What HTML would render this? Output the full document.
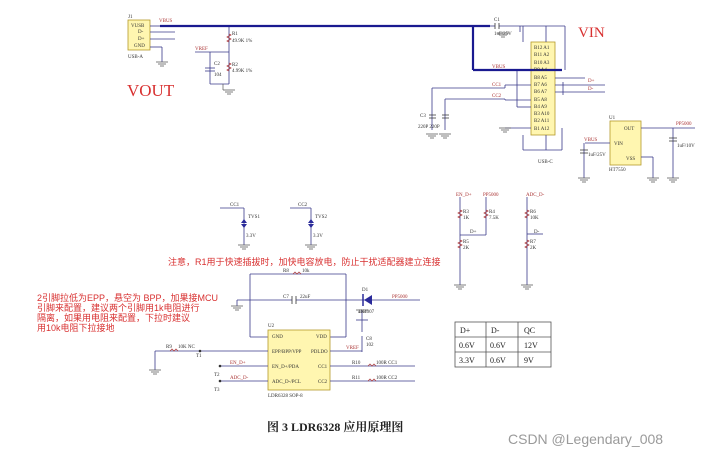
<!DOCTYPE html>
<html><head><meta charset="utf-8"><style>
html,body{margin:0;padding:0;background:#fff;}
svg{display:block;font-family:"Liberation Serif","Noto Serif CJK SC",serif;}
.s{font-size:5px;fill:#333}
.r{font-size:5px;fill:#a33}
</style></head><body>
<svg width="720" height="458" viewBox="0 0 720 458" xmlns="http://www.w3.org/2000/svg">
<g stroke="#3a3a8a" stroke-width="0.8" fill="none">
<!-- J1 -->
<rect x="128" y="20" width="22" height="30" fill="#fff6b0" stroke="#b59a2a"/>
<line x1="150" y1="26" x2="160" y2="26"/><line x1="150" y1="32" x2="175" y2="32"/><line x1="150" y1="39" x2="175" y2="39"/><line x1="150" y1="47" x2="162" y2="47"/><line x1="162" y1="47" x2="162" y2="62"/>
<!-- R1 R2 C2 -->
<line x1="229" y1="26" x2="229" y2="84"/><line x1="195" y1="52" x2="229" y2="52"/><line x1="210" y1="52" x2="210" y2="84"/><line x1="210" y1="84" x2="229" y2="84"/>
<line x1="205" y1="68" x2="215" y2="68"/><line x1="205" y1="71" x2="215" y2="71"/>
<!-- USB-C -->
<rect x="531" y="42" width="24" height="93" fill="#fff6b0" stroke="#b59a2a"/>
<line x1="490" y1="26" x2="495" y2="26"/><line x1="499" y1="26" x2="565" y2="26"/>
<line x1="520" y1="26" x2="520" y2="32"/><line x1="523" y1="26" x2="523" y2="42"/><line x1="546" y1="26" x2="546" y2="42"/><line x1="565" y1="26" x2="565" y2="70"/>
<line x1="432" y1="88" x2="505" y2="88"/><line x1="505" y1="88" x2="505" y2="85"/><line x1="505" y1="85" x2="531" y2="85"/><line x1="432" y1="88" x2="432" y2="130"/>
<line x1="445" y1="99" x2="505" y2="99"/><line x1="505" y1="99" x2="505" y2="100"/><line x1="505" y1="100" x2="531" y2="100"/><line x1="445" y1="99" x2="445" y2="130"/>
<line x1="517" y1="70" x2="517" y2="107"/><line x1="517" y1="107" x2="531" y2="107"/>
<line x1="555" y1="78" x2="585" y2="78"/><line x1="555" y1="85" x2="605" y2="85"/><line x1="555" y1="92" x2="605" y2="92"/><line x1="563" y1="82" x2="563" y2="95"/>
<line x1="505" y1="128" x2="531" y2="128"/><line x1="523" y1="135" x2="523" y2="150"/><line x1="546" y1="135" x2="546" y2="150"/><line x1="523" y1="150" x2="562" y2="150"/><line x1="562" y1="128" x2="562" y2="150"/>
<!-- U1 -->
<rect x="610" y="121" width="31" height="44" fill="#fff6b0" stroke="#b59a2a"/>
<line x1="585" y1="143" x2="610" y2="143"/><line x1="584" y1="143" x2="584" y2="178"/><line x1="641" y1="128" x2="695" y2="128"/><line x1="641" y1="157" x2="653" y2="157"/><line x1="653" y1="157" x2="653" y2="178"/><line x1="673" y1="128" x2="673" y2="178"/>
<!-- TVS -->
<line x1="220" y1="208" x2="244" y2="208"/><line x1="244" y1="208" x2="244" y2="245"/>
<line x1="290" y1="208" x2="311" y2="208"/><line x1="311" y1="208" x2="311" y2="245"/>
<!-- U2 area -->
<line x1="250" y1="274" x2="346" y2="274"/><line x1="250" y1="274" x2="250" y2="337"/><line x1="346" y1="274" x2="346" y2="337"/>
<line x1="237" y1="300" x2="292" y2="300"/><line x1="296" y1="300" x2="420" y2="300"/><line x1="237" y1="300" x2="237" y2="306"/>
<line x1="250" y1="337" x2="268" y2="337"/><line x1="330" y1="337" x2="346" y2="337"/>
<line x1="362" y1="310" x2="362" y2="332"/><line x1="362" y1="336" x2="362" y2="352"/><line x1="356" y1="320" x2="368" y2="320"/>
<rect x="268" y="330" width="62" height="60" fill="#fff6b0" stroke="#b59a2a"/>
<line x1="155" y1="351" x2="268" y2="351"/><line x1="155" y1="351" x2="155" y2="370"/><line x1="330" y1="351" x2="362" y2="351"/>
<line x1="220" y1="366" x2="268" y2="366"/><line x1="330" y1="366" x2="415" y2="366"/>
<line x1="220" y1="381" x2="268" y2="381"/><line x1="330" y1="381" x2="415" y2="381"/>
<!-- right resistors -->
<line x1="460" y1="197" x2="460" y2="285"/><line x1="486" y1="197" x2="486" y2="235"/><line x1="460" y1="235" x2="486" y2="235"/>
<line x1="527" y1="197" x2="527" y2="285"/><line x1="527" y1="234" x2="543" y2="234"/>
</g>
<!-- thick VBUS -->
<g stroke="#1a1a90" stroke-width="2.2" fill="none">
<line x1="160" y1="26" x2="490" y2="26"/><line x1="473" y1="26" x2="473" y2="70"/><line x1="473" y1="70" x2="562" y2="70"/>
</g>
<!-- grounds -->
<g stroke="#555" stroke-width="0.7">
<path d="M156 62h12M158 64h8M160 66h4"/><path d="M223 90h12M225 92h8M227 94h4"/><path d="M223 84v6"/>
<path d="M426 134h12M428 136h8M430 138h4"/><path d="M439 134h12M441 136h8M443 138h4"/>
<path d="M498 22v-0M497 33h12M499 35h8M501 37h4"/><path d="M499 128h12M501 130h8M503 132h4"/>
<path d="M578 178h12M580 180h8M582 182h4"/><path d="M647 178h12M649 180h8M651 182h4"/><path d="M667 178h12M669 180h8M671 182h4"/>
<path d="M238 245h12M240 247h8M242 249h4"/><path d="M305 245h12M307 247h8M309 249h4"/>
<path d="M231 306h12M233 308h8M235 310h4"/><path d="M149 370h12M151 372h8M153 374h4"/><path d="M356 310h12M358 312h8"/>
<path d="M454 285h12M456 287h8M458 289h4"/><path d="M521 285h12M523 287h8M525 289h4"/>
</g>
<!-- TVS symbols -->
<path d="M241 223l3 -4 3 4zM241 224l3 4 3-4z" fill="#2a2a9a"/><path d="M308 223l3 -4 3 4zM308 224l3 4 3-4z" fill="#2a2a9a"/>
<!-- diode -->
<path d="M364 300l8 -5v10z" fill="#2a2a9a"/><line x1="363" y1="294" x2="363" y2="306" stroke="#2a2a9a" stroke-width="1.5"/>
<!-- caps -->
<g stroke="#333" stroke-width="0.8"><path d="M292 296v8M296 296v8"/><path d="M495 23v6M499 23v6"/><path d="M580 150h8M580 153h8"/><path d="M669 138h8M669 141h8"/><path d="M429 115h7M429 118h7M442 115h7M442 118h7"/></g>
<!-- resistor zigzags -->
<g stroke="#a33" stroke-width="0.7" fill="none"><path d="M229 34l2 1-4 2 4 2-4 2 2 1"/><path d="M229 63l2 1-4 2 4 2-4 2 2 1"/><path d="M460 210l2 1-4 2 4 2-4 2 2 1"/><path d="M460 240l2 1-4 2 4 2-4 2 2 1"/><path d="M486 210l2 1-4 2 4 2-4 2 2 1"/><path d="M527 210l2 1-4 2 4 2-4 2 2 1"/><path d="M527 240l2 1-4 2 4 2-4 2 2 1"/><path d="M293 274l2-2 2 2 2-2 2 2"/><path d="M170 351l2-2 2 2 2-2 2 2"/><path d="M368 366l2-2 2 2 2-2 2 2"/><path d="M368 381l2-2 2 2 2-2 2 2"/></g>
<!-- texts -->
<text x="128" y="18" class="s">J1</text><text x="159" y="22" class="r">VBUS</text>
<text x="131" y="27" class="s">VUSB</text><text x="138" y="33" class="s">D-</text><text x="138" y="40" class="s">D+</text><text x="134" y="47" class="s">GND</text><text x="128" y="58" class="s">USB-A</text>
<text x="232" y="35" class="s">R1</text><text x="232" y="42" class="s">49.9K 1%</text><text x="232" y="66" class="s">R2</text><text x="232" y="72" class="s">4.99K 1%</text>
<text x="195" y="50" class="r">VREF</text><text x="214" y="65" class="s">C2</text><text x="214" y="76" class="s">104</text>
<text x="127" y="96" font-size="17" fill="#d83030">VOUT</text>
<text x="578" y="37" font-size="15" fill="#d83030">VIN</text>
<text x="494" y="21" class="s">C1</text><text x="494" y="35" class="s">1uF/25V</text>
<g class="s"><text x="534" y="49">B12 A1</text><text x="534" y="56">B11 A2</text><text x="534" y="64">B10 A3</text><text x="534" y="71">B9  A4</text><text x="534" y="79">B8  A5</text><text x="534" y="86">B7  A6</text><text x="534" y="93">B6  A7</text><text x="534" y="101">B5  A8</text><text x="534" y="108">B4  A9</text><text x="534" y="115">B3 A10</text><text x="534" y="122">B2 A11</text><text x="534" y="130">B1 A12</text></g>
<text x="492" y="68" class="r">VBUS</text><text x="492" y="86" class="r">CC1</text><text x="492" y="97" class="r">CC2</text>
<text x="588" y="82" class="r">D+</text><text x="588" y="90" class="r">D-</text>
<text x="420" y="117" class="s">C3</text><text x="418" y="128" class="s">220P 220P</text><text x="538" y="163" class="s">USB-C</text>
<text x="609" y="119" class="s">U1</text><text x="624" y="130" class="s">OUT</text><text x="614" y="145" class="s">VIN</text><text x="626" y="160" class="s">VSS</text><text x="609" y="171" class="s">HT7550</text>
<text x="584" y="141" class="r">VBUS</text><text x="588" y="156" class="s">1uF/25V</text><text x="676" y="125" class="r">PP5000</text><text x="677" y="147" class="s">1uF/10V</text>
<text x="230" y="206" class="s">CC1</text><text x="248" y="218" class="s">TVS1</text><text x="246" y="237" class="s">3.3V</text>
<text x="298" y="206" class="s">CC2</text><text x="315" y="218" class="s">TVS2</text><text x="313" y="237" class="s">3.3V</text>
<text x="168" y="265" font-size="9" fill="#d83030" font-family="Liberation Sans,Noto Sans CJK SC,sans-serif">注意，R1用于快速插拔时，加快电容放电，防止干扰适配器建立连接</text>
<g font-size="9" fill="#d83030" font-family="Liberation Sans,Noto Sans CJK SC,sans-serif"><text x="37" y="301">2引脚拉低为EPP，悬空为 BPP，加果接MCU</text><text x="37" y="311">引脚来配置，建议两个引脚用1k电阻进行</text><text x="37" y="321">隔离，如果用电阻来配置，下拉时建议</text><text x="37" y="331">用10k电阻下拉接地</text></g>
<text x="283" y="272" class="s">R8</text><text x="302" y="272" class="s">10k</text><text x="283" y="298" class="s">C7</text><text x="300" y="298" class="s">22uF</text>
<text x="362" y="291" class="s">D1</text><text x="392" y="298" class="r">PP5000</text><text x="358" y="313" class="s">1N4007</text><text x="366" y="340" class="s">C8</text><text x="366" y="346" class="s">102</text>
<text x="268" y="327" class="s">U2</text><g class="s"><text x="272" y="338">GND</text><text x="316" y="338">VDD</text><text x="272" y="353">EPP/BPP/VPP</text><text x="311" y="353">PDLDO</text><text x="272" y="368">EN_D+/PDA</text><text x="318" y="368">CC1</text><text x="272" y="383">ADC_D-/PCL</text><text x="318" y="383">CC2</text></g>
<text x="268" y="397" class="s">LDR6328 SOP-8</text><text x="346" y="349" class="r">VREF</text>
<text x="166" y="348" class="s">R9</text><text x="178" y="348" class="s">10K NC</text><text x="196" y="357" class="s">T1</text><text x="214" y="376" class="s">T2</text><text x="214" y="391" class="s">T3</text>
<text x="230" y="364" class="r">EN_D+</text><text x="230" y="379" class="r">ADC_D-</text>
<text x="352" y="364" class="s">R10</text><text x="376" y="364" class="s">100R  CC1</text><text x="352" y="379" class="s">R11</text><text x="376" y="379" class="s">100R  CC2</text>
<circle cx="220" cy="366" r="1.3" fill="#333"/><circle cx="220" cy="381" r="1.3" fill="#333"/><circle cx="200" cy="351" r="1.3" fill="#333"/>
<text x="456" y="196" class="r">EN_D+</text><text x="483" y="196" class="r">PP5000</text><text x="526" y="196" class="r">ADC_D-</text>
<text x="463" y="213" class="s">R3</text><text x="463" y="219" class="s">1K</text><text x="489" y="213" class="s">R4</text><text x="489" y="219" class="s">7.5K</text><text x="470" y="233" class="s">D+</text>
<text x="463" y="243" class="s">R5</text><text x="463" y="249" class="s">2K</text><text x="530" y="213" class="s">R6</text><text x="530" y="219" class="s">10K</text><text x="534" y="233" class="s">D-</text><text x="530" y="243" class="s">R7</text><text x="530" y="249" class="s">2K</text>
<!-- table -->
<g stroke="#555" stroke-width="0.8" fill="none"><rect x="455" y="322" width="96" height="45"/><line x1="455" y1="337" x2="551" y2="337"/><line x1="455" y1="352" x2="551" y2="352"/><line x1="486" y1="322" x2="486" y2="367"/><line x1="518" y1="322" x2="518" y2="367"/></g>
<g font-size="8" fill="#222"><text x="460" y="333">D+</text><text x="491" y="333">D-</text><text x="524" y="333">QC</text><text x="459" y="348">0.6V</text><text x="490" y="348">0.6V</text><text x="524" y="348">12V</text><text x="459" y="363">3.3V</text><text x="490" y="363">0.6V</text><text x="524" y="363">9V</text></g>
<text x="267" y="431" font-size="12" font-weight="bold" fill="#222">图 3  LDR6328 应用原理图</text>
<text x="508" y="444" font-size="14" fill="#9a9a9a" font-family="Liberation Sans,sans-serif">CSDN @Legendary_008</text>
</svg>
</body></html>
